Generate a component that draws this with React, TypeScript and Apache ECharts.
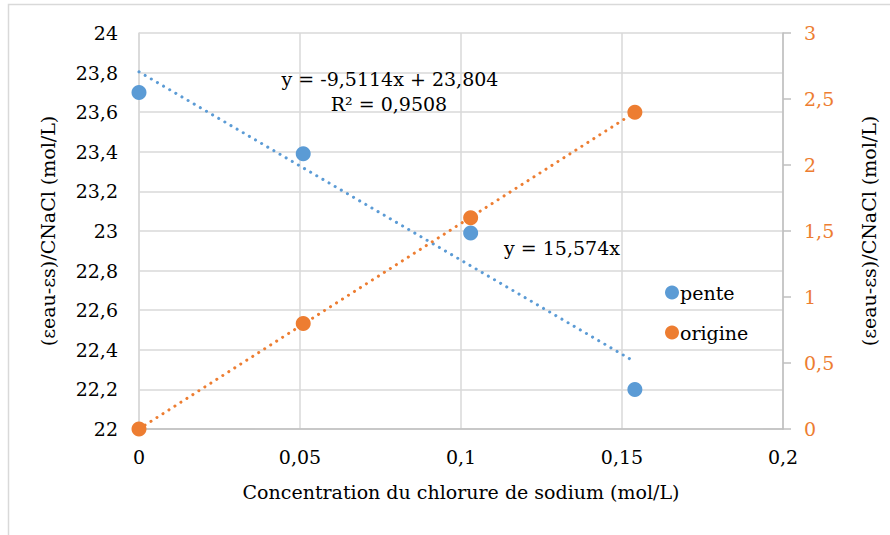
import React, { useEffect, useRef } from "react";
import * as echarts from "echarts";

const xValues = [0, 0.051, 0.103, 0.154];
const penteValues = [23.7, 23.39, 22.99, 22.2];
const origineValues = [0, 0.8, 1.6, 2.4];
const penteSlope = -9.5114;
const penteIntercept = 23.804;
const origineSlope = 15.574;
const penteEquation = "y = -9,5114x + 23,804";
const penteR2 = "R² = 0,9508";
const origineEquation = "y = 15,574x";
const xAxisTitle = "Concentration du chlorure de sodium (mol/L)";
const yAxisTitle = "(εeau-εs)/CNaCl (mol/L)";

const FONT = "DejaVu Serif";
const FS = 19;
const BLUE = "#5B9BD5";
const ORANGE = "#ED7D31";
const GRID = "#D9D9D9";
const AXIS = "#BFBFBF";

const fmt = (v: number) => String(parseFloat(v.toFixed(3))).replace(".", ",");

export default function App() {
  const ref = useRef<HTMLDivElement>(null);
  useEffect(() => {
    if (!ref.current) return;
    const chart = echarts.init(ref.current, undefined, { renderer: "svg" });
    const x0 = xValues[0];
    const x1 = xValues[xValues.length - 1];
    const txt = { fontSize: FS, color: "#000", fontFamily: FONT };
    const eq = (text: string, x: number, y: number) => ({
      type: "text",
      x,
      y,
      style: { text, fontSize: FS, fontFamily: FONT, fill: "#000", align: "center", verticalAlign: "middle" },
      z: 10,
    });
    chart.setOption({
      animation: false,
      backgroundColor: "#fff",
      textStyle: { fontFamily: FONT },
      grid: { left: 139, top: 33, right: 107, bottom: 106 },
      xAxis: {
        type: "value",
        min: 0,
        max: 0.2,
        interval: 0.05,
        name: xAxisTitle,
        nameLocation: "middle",
        nameGap: 53,
        nameTextStyle: txt,
        axisLine: { show: true, onZero: false, lineStyle: { color: AXIS, width: 1.5 } },
        axisTick: { show: false },
        axisLabel: { ...txt, margin: 18, formatter: fmt },
        splitLine: { show: true, lineStyle: { color: GRID, width: 1.5 } },
      },
      yAxis: [
        {
          type: "value",
          min: 22,
          max: 24,
          interval: 0.2,
          name: yAxisTitle,
          nameLocation: "middle",
          nameGap: 82,
          nameTextStyle: txt,
          axisLine: { show: true, lineStyle: { color: GRID, width: 1.5 } },
          axisTick: { show: false },
          axisLabel: { ...txt, margin: 21, formatter: fmt },
          splitLine: { show: true, lineStyle: { color: GRID, width: 1.5 } },
        },
        {
          type: "value",
          min: 0,
          max: 3,
          interval: 0.5,
          position: "right",
          name: yAxisTitle,
          nameLocation: "middle",
          nameGap: 76,
          nameRotate: 90,
          nameTextStyle: txt,
          axisLine: { show: true, lineStyle: { color: AXIS, width: 1.5 } },
          axisTick: { show: true, inside: false, length: 8, lineStyle: { color: AXIS, width: 1.5 } },
          axisLabel: { ...txt, color: ORANGE, margin: 21, formatter: fmt },
          splitLine: { show: false },
        },
      ],
      legend: {
        orient: "vertical",
        left: 660,
        top: 278,
        itemWidth: 14,
        itemHeight: 14,
        itemGap: 21,
        icon: "circle",
        data: ["pente", "origine"],
        textStyle: { ...txt, padding: [0, 0, 0, -4] },
      },
      series: [
        {
          name: "tendance pente",
          type: "line",
          yAxisIndex: 0,
          symbol: "none",
          silent: true,
          data: [
            [x0, penteIntercept + penteSlope * x0],
            [x1, penteIntercept + penteSlope * x1],
          ],
          lineStyle: { color: BLUE, width: 3, type: [0.1, 7], cap: "round" },
          z: 2,
        },
        {
          name: "tendance origine",
          type: "line",
          yAxisIndex: 1,
          symbol: "none",
          silent: true,
          data: [
            [x0, origineSlope * x0],
            [x1, origineSlope * x1],
          ],
          lineStyle: { color: ORANGE, width: 3, type: [0.1, 7], cap: "round" },
          z: 2,
        },
        {
          name: "pente",
          type: "scatter",
          yAxisIndex: 0,
          symbol: "circle",
          symbolSize: 15,
          itemStyle: { color: BLUE, opacity: 1 },
          data: xValues.map((x, i) => [x, penteValues[i]]),
          z: 3,
        },
        {
          name: "origine",
          type: "scatter",
          yAxisIndex: 1,
          symbol: "circle",
          symbolSize: 15,
          itemStyle: { color: ORANGE, opacity: 1 },
          data: xValues.map((x, i) => [x, origineValues[i]]),
          z: 3,
        },
      ],
      graphic: [
        {
          type: "rect",
          shape: { x: 8.5, y: 4.5, width: 1000, height: 1000 },
          style: { fill: "none", stroke: GRID, lineWidth: 1.5 },
          silent: true,
          z: -1,
        },
        eq(penteEquation, 390, 79),
        eq(penteR2, 389, 104),
        eq(origineEquation, 562, 248),
      ],
    });
    return () => chart.dispose();
  }, []);
  return <div ref={ref} style={{ position: "fixed", left: 0, top: 0, width: 890, height: 535 }} />;
}
